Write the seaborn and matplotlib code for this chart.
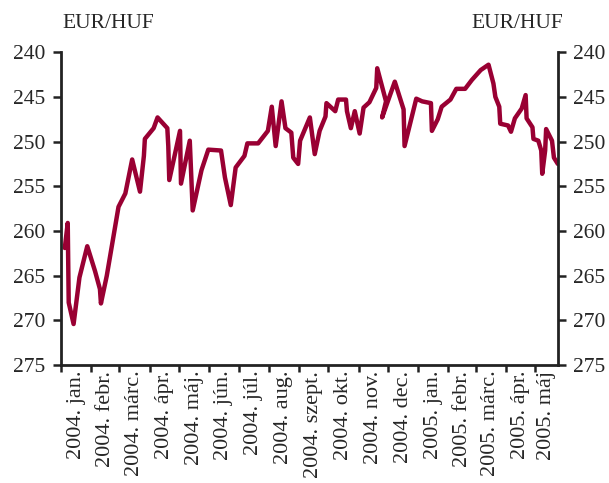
import pandas as pd
import numpy as np
import matplotlib
matplotlib.use('Agg')
import matplotlib.pyplot as plt
import seaborn as sns

# Árfolyam (EUR/HUF), leolvasott pontok
dates = [
    '2004-01-05', '2004-01-08', '2004-01-09', '2004-01-14', '2004-01-20', '2004-01-28',
    '2004-02-05', '2004-02-10', '2004-02-11', '2004-02-17', '2004-02-29',
    '2004-03-07', '2004-03-14', '2004-03-22', '2004-03-26', '2004-03-27',
    '2004-04-05', '2004-04-09', '2004-04-19', '2004-04-20', '2004-04-21',
    '2004-05-02', '2004-05-03', '2004-05-12', '2004-05-15', '2004-05-24', '2004-05-31',
    '2004-06-13', '2004-06-17', '2004-06-23', '2004-06-28',
    '2004-07-07', '2004-07-10', '2004-07-21', '2004-07-31',
    '2004-08-04', '2004-08-08', '2004-08-14', '2004-08-18', '2004-08-24', '2004-08-26', '2004-08-31',
    '2004-09-02', '2004-09-12', '2004-09-17', '2004-09-22', '2004-09-28', '2004-09-29',
    '2004-10-08', '2004-10-11', '2004-10-19', '2004-10-20', '2004-10-24', '2004-10-28',
    '2004-11-02', '2004-11-06', '2004-11-12', '2004-11-19', '2004-11-20', '2004-11-29', '2004-11-25',
    '2004-12-08', '2004-12-17', '2004-12-18', '2004-12-30',
    '2005-01-05', '2005-01-14', '2005-01-15', '2005-01-21', '2005-01-25',
    '2005-02-03', '2005-02-09', '2005-02-18', '2005-02-25',
    '2005-03-06', '2005-03-14', '2005-03-19', '2005-03-21', '2005-03-25', '2005-03-26',
    '2005-04-03', '2005-04-06', '2005-04-10', '2005-04-17', '2005-04-21', '2005-04-22',
    '2005-04-28', '2005-04-29',
    '2005-05-04', '2005-05-07', '2005-05-08', '2005-05-11', '2005-05-12', '2005-05-18',
    '2005-05-20', '2005-05-24',
]
rates = [
    261.9, 259.1, 268.0, 270.4, 265.2, 261.7,
    264.5, 266.5, 268.1, 265.0, 257.3,
    255.8, 252.0, 255.6, 251.6, 249.7,
    248.5, 247.3, 248.5, 250.5, 254.3,
    248.8, 254.7, 249.9, 257.7, 253.2, 250.9,
    251.0, 254.0, 257.1, 252.9,
    251.6, 250.2, 250.2, 248.8,
    246.1, 250.5, 245.5, 248.5, 249.0, 251.8, 252.5,
    249.9, 247.3, 251.4, 248.8, 247.2, 245.7,
    246.6, 245.3, 245.3, 246.6, 248.5, 246.6,
    249.1, 246.2, 245.6, 244.0, 241.8, 245.5, 247.3,
    243.3, 246.4, 250.5, 245.2,
    245.5, 245.7, 248.8, 247.5, 246.1,
    245.3, 244.1, 244.1, 243.1,
    242.0, 241.4, 243.5, 245.0, 246.1, 248.0,
    248.2, 248.9, 247.4, 246.3, 244.8, 247.4,
    248.4, 249.7,
    249.9, 251.0, 253.6, 251.0, 248.6, 249.9,
    251.8, 252.5,
]

month_labels = ['2004. jan.', '2004. febr.', '2004. márc.', '2004. ápr.', '2004. máj.',
                '2004. jún.', '2004. júl.', '2004. aug.', '2004. szept.', '2004. okt.',
                '2004. nov.', '2004. dec.', '2005. jan.', '2005. febr.', '2005. márc.',
                '2005. ápr.', '2005. máj']

df = pd.DataFrame({'date': pd.to_datetime(dates), 'rate': rates})

sns.set_style('ticks')
plt.rcParams['font.family'] = ['Liberation Serif', 'DejaVu Serif']
plt.rcParams['font.size'] = 15.5

fig = plt.figure(figsize=(6.09, 4.83), dpi=100)
ax = fig.add_axes([0.100, 0.244, 0.816, 0.648])

sns.lineplot(data=df, x='date', y='rate', ax=ax, color='#990033', linewidth=3.2,
             sort=False, estimator=None)

x_start = pd.Timestamp('2004-01-01')
x_end = pd.Timestamp('2005-05-24')
ax.set_xlim(x_start, x_end)
ax.set_ylim(275, 240)
ax.set_yticks(np.arange(240, 276, 5))
ax.set_xlabel('')
ax.set_ylabel('')

# havi határok: fő osztások, feliratok a hónapok közepén
month_starts = pd.date_range('2004-01-01', '2005-05-01', freq='MS')
label_pos = []
for i, m in enumerate(month_starts):
    end = month_starts[i + 1] if i + 1 < len(month_starts) else x_end
    label_pos.append(m + (end - m) / 2)
ax.set_xticks(month_starts)
ax.set_xticklabels([])
ax.set_xticks(label_pos, minor=True)
ax.set_xticklabels(month_labels, minor=True, rotation=90, fontsize=16)
ax.tick_params(axis='x', which='minor', length=0, pad=4)
ax.tick_params(axis='x', which='major', length=5, width=1.8, color='#222222')
ax.tick_params(axis='y', length=6, width=1.8, color='#222222', labelsize=15.5,
               right=True, labelright=True, pad=5)

for side in ['left', 'right', 'bottom']:
    ax.spines[side].set_linewidth(2)
    ax.spines[side].set_color('#222222')
ax.spines['top'].set_visible(False)

fig.text(0.102, 0.952, 'EUR/HUF', fontsize=15.5, ha='left', va='center')
fig.text(0.925, 0.952, 'EUR/HUF', fontsize=15.5, ha='right', va='center')

fig.savefig('out.png', dpi=100)
